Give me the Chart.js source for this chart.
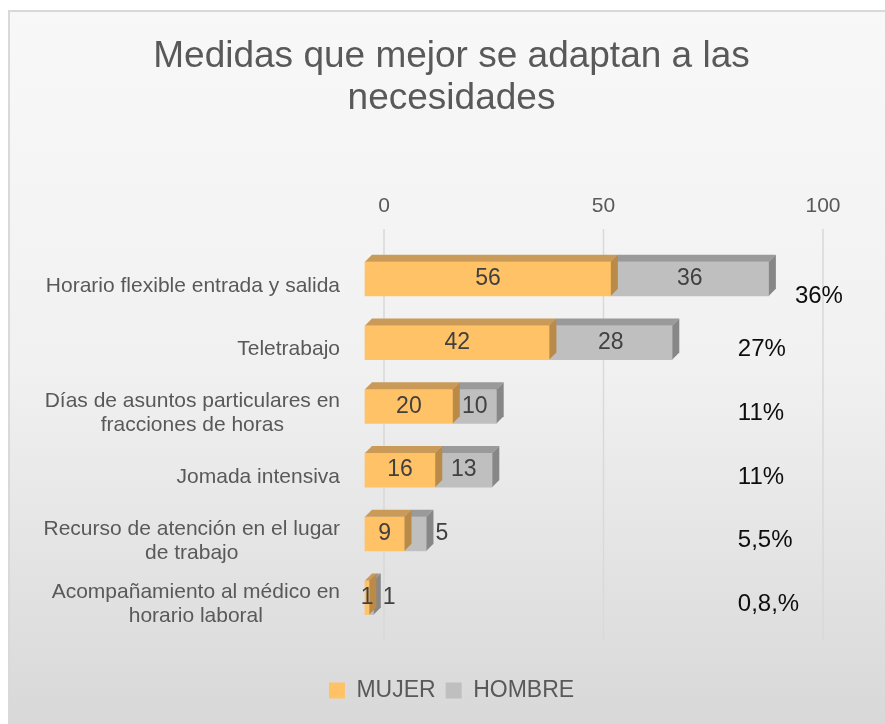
<!DOCTYPE html>
<html>
<head>
<meta charset="utf-8">
<script src="https://cdn.jsdelivr.net/npm/chart.js@4.4.0/dist/chart.umd.min.js"></script>
<style>
html, body { margin: 0; padding: 0; background: #fff; }
#wrap { position: absolute; left: 8px; top: 10px; width: 877px; height: 714px;
        border-left: 2px solid #d9d9d9; border-top: 2px solid #d9d9d9; }
canvas { display: block; }
</style>
</head>
<body>
<div id="wrap"><canvas id="chart" width="875" height="712"></canvas></div>
<script>
// datos
var categorias = [
  ["Horario flexible entrada y salida"],
  ["Teletrabajo"],
  ["Días de asuntos particulares en", "fracciones de horas"],
  ["Jomada intensiva"],
  ["Recurso de atención en el lugar", "de trabajo"],
  ["Acompañamiento al médico en", "horario laboral"]
];
var mujer = [56, 42, 20, 16, 9, 1];
var hombre = [36, 28, 10, 13, 5, 1];
var porcentajes = ["36%", "27%", "11%", "11%", "5,5%", "0,8,%"];
var ejeTicks = [0, 50, 100];

var FONT = '"Liberation Sans", Arial, sans-serif';
var depth = 7;
var shiftX = -19, shiftY = -7;

var caras = [
  { top: "#c99a58", side: "#b98a48" },
  { top: "#9a9a9a", side: "#878787" }
];

function barBox(bar) {
  var p = bar.getProps(['x', 'y', 'base', 'height'], true);
  return {
    l: Math.min(p.x, p.base), r: Math.max(p.x, p.base),
    t: p.y - p.height / 2, b: p.y + p.height / 2, y: p.y
  };
}

var plugin3d = {
  id: 'plugin3d',
  beforeDraw: function(chart) {
    var ctx = chart.ctx;
    var g = ctx.createLinearGradient(0, 0, 0, chart.height);
    g.addColorStop(0, '#f8f8f8');
    g.addColorStop(0.5, '#f1f1f1');
    g.addColorStop(1, '#d8d8d8');
    ctx.save();
    ctx.fillStyle = g;
    ctx.fillRect(0, 0, chart.width, chart.height);
    ctx.restore();
  },
  beforeDatasetsDraw: function(chart) {
    var ctx = chart.ctx, xs = chart.scales.x, area = chart.chartArea;
    ctx.save();
    ctx.strokeStyle = '#d9d9d9';
    ctx.lineWidth = 1.5;
    ejeTicks.forEach(function(v) {
      var px = xs.getPixelForValue(v);
      ctx.beginPath();
      ctx.moveTo(px, area.top - 25);
      ctx.lineTo(px, area.bottom + 4);
      ctx.stroke();
    });
    ctx.restore();
    ctx.save();
    ctx.translate(shiftX, shiftY);
  },
  afterDatasetDraw: function(chart, args) {
    var ctx = chart.ctx, c = caras[args.index];
    args.meta.data.forEach(function(bar) {
      var b = barBox(bar);
      ctx.fillStyle = c.top;
      ctx.beginPath();
      ctx.moveTo(b.l, b.t); ctx.lineTo(b.l + depth, b.t - depth);
      ctx.lineTo(b.r + depth, b.t - depth); ctx.lineTo(b.r, b.t);
      ctx.closePath(); ctx.fill();
      ctx.fillStyle = c.side;
      ctx.beginPath();
      ctx.moveTo(b.r, b.t); ctx.lineTo(b.r + depth, b.t - depth);
      ctx.lineTo(b.r + depth, b.b - depth); ctx.lineTo(b.r, b.b);
      ctx.closePath(); ctx.fill();
    });
  },
  afterDatasetsDraw: function(chart) {
    var ctx = chart.ctx;
    ctx.font = '23px ' + FONT;
    ctx.fillStyle = '#404040';
    ctx.textBaseline = 'middle';
    chart.data.datasets.forEach(function(ds, di) {
      chart.getDatasetMeta(di).data.forEach(function(bar, i) {
        var b = barBox(bar);
        if (di === 1 && b.r - b.l < 30) {
          ctx.textAlign = 'left';
          ctx.fillText(ds.data[i], b.r + depth + 2, b.y);
        } else {
          ctx.textAlign = 'center';
          ctx.fillText(ds.data[i], (b.l + b.r) / 2, b.y);
        }
      });
    });
    ctx.restore();

    // etiquetas de categoria y porcentajes
    var ys = chart.scales.y, xs = chart.scales.x, area = chart.chartArea;
    ctx.save();
    ctx.textBaseline = 'middle';
    ctx.textAlign = 'center';
    categorias.forEach(function(lines, i) {
      var cy = ys.getPixelForValue(i);
      ctx.font = '21px ' + FONT;
      ctx.fillStyle = '#595959';
      var w = 0;
      lines.forEach(function(s) { w = Math.max(w, ctx.measureText(s).width); });
      var cx = area.left - 44 - w / 2;
      var lh = 24;
      lines.forEach(function(s, k) {
        ctx.fillText(s, cx, cy + (k - (lines.length - 1) / 2) * lh);
      });
      ctx.font = '24px ' + FONT;
      ctx.fillStyle = '#0d0d0d';
      ctx.textAlign = 'left';
      if (i === 0) {
        ctx.fillText(porcentajes[i], xs.getPixelForValue(93.6), cy + 11);
      } else {
        ctx.fillText(porcentajes[i], xs.getPixelForValue(80.6), cy);
      }
      ctx.textAlign = 'center';
    });
    ctx.restore();
  }
};

new Chart(document.getElementById('chart'), {
  type: 'bar',
  data: {
    labels: categorias,
    datasets: [
      { label: 'MUJER', data: mujer, backgroundColor: '#ffc266', barThickness: 34, clip: false },
      { label: 'HOMBRE', data: hombre, backgroundColor: '#bfbfbf', barThickness: 34, clip: false }
    ]
  },
  plugins: [plugin3d],
  options: {
    indexAxis: 'y',
    responsive: false,
    animation: false,
    layout: { padding: { left: 8, right: 0, top: 0, bottom: 12 } },
    scales: {
      x: {
        position: 'top', stacked: true, min: 0, max: 100,
        grid: { display: false, drawTicks: false },
        border: { display: false },
        ticks: { stepSize: 50, color: '#595959', padding: 35, font: { size: 21, family: FONT } },
        afterFit: function(s) { s.height = 113.6; }
      },
      xB: {
        type: 'linear', position: 'bottom', display: true,
        grid: { display: false, drawTicks: false }, border: { display: false },
        ticks: { display: false },
        afterFit: function(s) { s.height = 32.5; }
      },
      y: {
        stacked: true,
        grid: { display: false, drawTicks: false },
        border: { display: false },
        ticks: { display: false },
        afterFit: function(s) { s.width = 366; }
      },
      yR: {
        type: 'linear', position: 'right', display: true,
        grid: { display: false, drawTicks: false }, border: { display: false },
        ticks: { display: false },
        afterFit: function(s) { s.width = 62; }
      }
    },
    plugins: {
      title: {
        display: true,
        text: ['Medidas que mejor se adaptan a las', 'necesidades'],
        color: '#595959',
        font: { size: 37, weight: 'normal', family: FONT, lineHeight: 1.14 },
        padding: { top: 24, bottom: 20 }
      },
      legend: {
        position: 'bottom',
        labels: {
          color: '#595959', boxWidth: 16, boxHeight: 16, padding: 10,
          font: { size: 23, family: FONT }
        }
      },
      tooltip: { enabled: false }
    }
  }
});
</script>
</body>
</html>
